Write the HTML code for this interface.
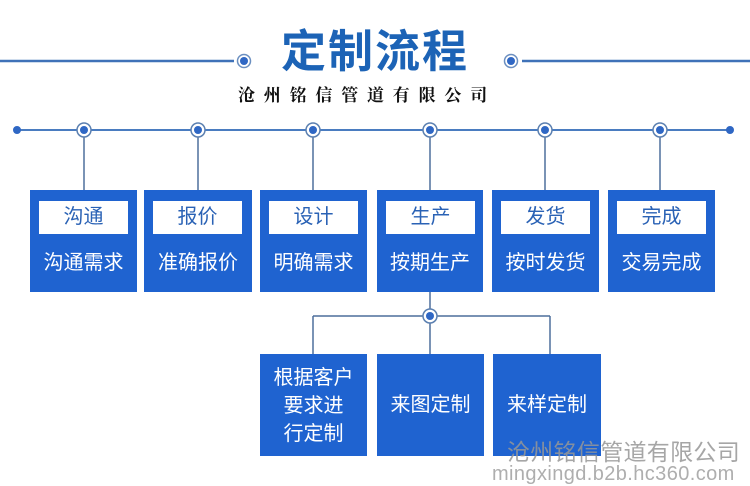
<!DOCTYPE html>
<html><head><meta charset="utf-8"><style>
*{margin:0;padding:0;box-sizing:border-box}
body{width:750px;height:486px;background:#fff;position:relative;overflow:hidden;font-family:"Liberation Sans","Noto Sans CJK SC",sans-serif}
.t{position:absolute;white-space:nowrap}
.box{position:absolute;background:#1f63d0;width:107px;height:102px;top:190px}
.lab{position:absolute;left:9px;top:11px;width:89px;height:33px;background:#fff;color:#2a62b5;font-size:20px;line-height:33px;text-align:center}
.sub{position:absolute;left:0;top:58px;width:100%;text-align:center;color:#fff;font-size:20px;line-height:30px}
.bb{position:absolute;background:#1f63d0;top:354px;height:102px;color:#fff;font-size:20px;text-align:center}
</style></head><body>
<svg width="750" height="486" style="position:absolute;left:0;top:0">
<g stroke="#3f72b8" stroke-width="2.5" fill="none">
<line x1="0" y1="61" x2="234" y2="61"/>
<line x1="522" y1="61" x2="750" y2="61"/>
</g>
<circle cx="244" cy="61" r="6.5" fill="#fff" stroke="#6b8fc0" stroke-width="1.5"/>
<circle cx="244" cy="61" r="4" fill="#2f67c4"/>
<circle cx="511" cy="61" r="6.5" fill="#fff" stroke="#6b8fc0" stroke-width="1.5"/>
<circle cx="511" cy="61" r="4" fill="#2f67c4"/>
<line x1="17" y1="130" x2="730" y2="130" stroke="#4a7cc0" stroke-width="2"/>
<circle cx="17" cy="130" r="4" fill="#2f67c4"/>
<circle cx="730" cy="130" r="4" fill="#2f67c4"/>
<g stroke="#4d6f9c" stroke-width="1.5">
<line x1="84" y1="130" x2="84" y2="190"/>
<line x1="198" y1="130" x2="198" y2="190"/>
<line x1="313" y1="130" x2="313" y2="190"/>
<line x1="430" y1="130" x2="430" y2="190"/>
<line x1="545" y1="130" x2="545" y2="190"/>
<line x1="660" y1="130" x2="660" y2="190"/>
<line x1="430" y1="292" x2="430" y2="354"/>
<line x1="313" y1="316" x2="550" y2="316"/>
<line x1="313" y1="316" x2="313" y2="354"/>
<line x1="550" y1="316" x2="550" y2="354"/>
</g>
<g fill="#fff" stroke="#5a7fb0" stroke-width="1.5">
<circle cx="84" cy="130" r="7"/><circle cx="198" cy="130" r="7"/><circle cx="313" cy="130" r="7"/>
<circle cx="430" cy="130" r="7"/><circle cx="545" cy="130" r="7"/><circle cx="660" cy="130" r="7"/>
<circle cx="430" cy="316" r="7"/>
</g>
<g fill="#2f67c4">
<circle cx="84" cy="130" r="4"/><circle cx="198" cy="130" r="4"/><circle cx="313" cy="130" r="4"/>
<circle cx="430" cy="130" r="4"/><circle cx="545" cy="130" r="4"/><circle cx="660" cy="130" r="4"/>
<circle cx="430" cy="316" r="4"/>
</g>
</svg>
<div class="t" style="left:281px;top:24px;font-size:45px;font-weight:bold;color:#1c63b6;letter-spacing:2px;line-height:56px">定制流程</div>
<div class="t" style="left:238px;top:84px;font-size:17px;font-weight:bold;color:#111;letter-spacing:8.8px;line-height:24px;font-family:'Liberation Serif','Noto Serif CJK SC',serif">沧州铭信管道有限公司</div>

<div class="box" style="left:30px"><div class="lab">沟通</div><div class="sub">沟通需求</div></div>
<div class="box" style="left:144px;width:108px"><div class="lab">报价</div><div class="sub">准确报价</div></div>
<div class="box" style="left:260px"><div class="lab">设计</div><div class="sub">明确需求</div></div>
<div class="box" style="left:377px;width:106px"><div class="lab">生产</div><div class="sub">按期生产</div></div>
<div class="box" style="left:492px"><div class="lab">发货</div><div class="sub">按时发货</div></div>
<div class="box" style="left:608px"><div class="lab">完成</div><div class="sub">交易完成</div></div>

<div class="bb" style="left:260px;width:107px;padding-top:10px;line-height:28px">根据客户<br>要求进<br>行定制</div>
<div class="bb" style="left:377px;width:107px;line-height:102px">来图定制</div>
<div class="bb" style="left:493px;width:108px;line-height:102px">来样定制</div>

<div class="t" style="left:507px;top:438px;font-size:23px;line-height:28px;color:rgba(150,150,150,0.85);letter-spacing:0.3px">沧州铭信管道有限公司</div>
<div class="t" style="left:492px;top:462px;font-size:20px;line-height:24px;color:rgba(160,160,160,0.85);letter-spacing:0.4px">mingxingd.b2b.hc360.com</div>
</body></html>
